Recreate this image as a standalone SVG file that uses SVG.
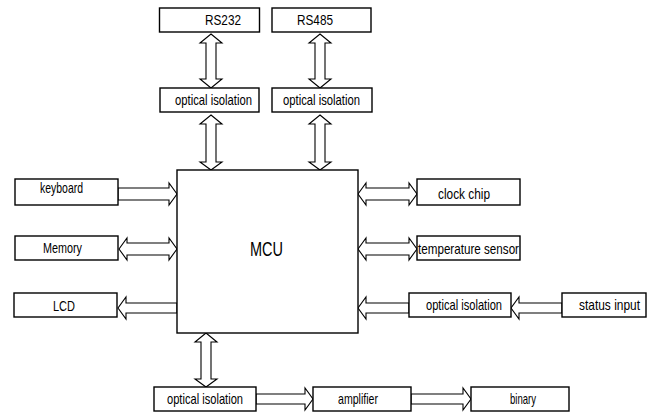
<svg xmlns="http://www.w3.org/2000/svg" width="656" height="414" viewBox="0 0 656 414">
<style>
.box{fill:#fff;stroke:#000;stroke-width:1.4}
.arr{fill:#fff;stroke:#000;stroke-width:1.1;stroke-linejoin:miter}
.t{font-family:"Liberation Sans",Arial,sans-serif;font-size:15px;fill:#000}
.big{font-family:"Liberation Sans",Arial,sans-serif;font-size:21px;fill:#000}
</style>
<rect width="656" height="414" fill="#fff"/>
<g id="connectors">
<polygon class="arr" points="211,34 222,43 216,43 216,79 222,79 211,88 200,79 206,79 206,43 200,43"/>
<polygon class="arr" points="320,34 331,43 325,43 325,79 331,79 320,88 309,79 315,79 315,43 309,43"/>
<polygon class="arr" points="211,115 222,124 216,124 216,162 222,162 211,170 200,162 206,162 206,124 200,124"/>
<polygon class="arr" points="320,115 331,124 325,124 325,162 331,162 320,170 309,162 315,162 315,124 309,124"/>
<polygon class="arr" points="206,333 217,342 211,342 211,379 217,379 206,387 195,379 201,379 201,342 195,342"/>
<polygon class="arr" points="118,188 169,188 169,183 177,194 169,205 169,200 118,200"/>
<polygon class="arr" points="119,249 127,238 127,243 169,243 169,238 177,249 169,260 169,255 127,255 127,260"/>
<polygon class="arr" points="177,303 126,303 126,297 118,308 126,319 126,313 177,313"/>
<polygon class="arr" points="358,194 366,183 366,188 409,188 409,183 417,194 409,205 409,200 366,200 366,205"/>
<polygon class="arr" points="358,249 366,238 366,243 409,243 409,238 417,249 409,260 409,255 366,255 366,260"/>
<polygon class="arr" points="409,303 366,303 366,297 358,308 366,319 366,313 409,313"/>
<polygon class="arr" points="562,303 519,303 519,297 511,308 519,319 519,313 562,313"/>
<polygon class="arr" points="256,394 305,394 305,388 313,399 305,410 305,404 256,404"/>
<polygon class="arr" points="411,394 463,394 463,388 471,399 463,410 463,404 411,404"/>
</g>
<g id="rs232"><rect class="box" x="159.5" y="8" width="100" height="24"/><text class="t" x="205" y="25" textLength="36" lengthAdjust="spacingAndGlyphs">RS232</text></g>
<g id="rs485"><rect class="box" x="272" y="8" width="99" height="24"/><text class="t" x="297" y="25" textLength="36" lengthAdjust="spacingAndGlyphs">RS485</text></g>
<g id="opt1"><rect class="box" x="160" y="88" width="99" height="24"/><text class="t" x="175" y="105" textLength="77" lengthAdjust="spacingAndGlyphs">optical  isolation</text></g>
<g id="opt2"><rect class="box" x="272" y="88" width="100" height="24"/><text class="t" x="283" y="105" textLength="77" lengthAdjust="spacingAndGlyphs">optical  isolation</text></g>
<g id="mcu"><rect class="box" x="177" y="170" width="181" height="163"/><text class="big" x="250" y="256" textLength="33" lengthAdjust="spacingAndGlyphs">MCU</text></g>
<g id="keyboard"><rect class="box" x="15" y="179" width="103" height="26"/><text class="t" x="40" y="193" textLength="43" lengthAdjust="spacingAndGlyphs">keyboard</text></g>
<g id="memory"><rect class="box" x="15" y="236" width="103" height="24"/><text class="t" x="43" y="253" textLength="39" lengthAdjust="spacingAndGlyphs">Memory</text></g>
<g id="lcd"><rect class="box" x="14" y="293" width="103" height="24"/><text class="t" x="53" y="311" textLength="22" lengthAdjust="spacingAndGlyphs">LCD</text></g>
<g id="clock"><rect class="box" x="417" y="179" width="103" height="26"/><text class="t" x="438" y="199" textLength="52" lengthAdjust="spacingAndGlyphs">clock  chip</text></g>
<g id="temp"><rect class="box" x="417" y="236" width="103" height="24"/><text class="t" x="418" y="254" textLength="101" lengthAdjust="spacingAndGlyphs">temperature  sensor</text></g>
<g id="opt3"><rect class="box" x="409" y="293" width="102" height="24"/><text class="t" x="426" y="310" textLength="76" lengthAdjust="spacingAndGlyphs">optical  isolation</text></g>
<g id="status"><rect class="box" x="562" y="293" width="84" height="24"/><text class="t" x="579" y="310" textLength="61" lengthAdjust="spacingAndGlyphs">status  input</text></g>
<g id="opt4"><rect class="box" x="154" y="387" width="102" height="24"/><text class="t" x="167" y="404" textLength="76" lengthAdjust="spacingAndGlyphs">optical  isolation</text></g>
<g id="amplifier"><rect class="box" x="313" y="387" width="98" height="24"/><text class="t" x="338" y="404" textLength="40" lengthAdjust="spacingAndGlyphs">amplifier</text></g>
<g id="binary"><rect class="box" x="471" y="387" width="98" height="24"/><text class="t" x="510" y="404" textLength="26" lengthAdjust="spacingAndGlyphs">binary</text></g>
</svg>
